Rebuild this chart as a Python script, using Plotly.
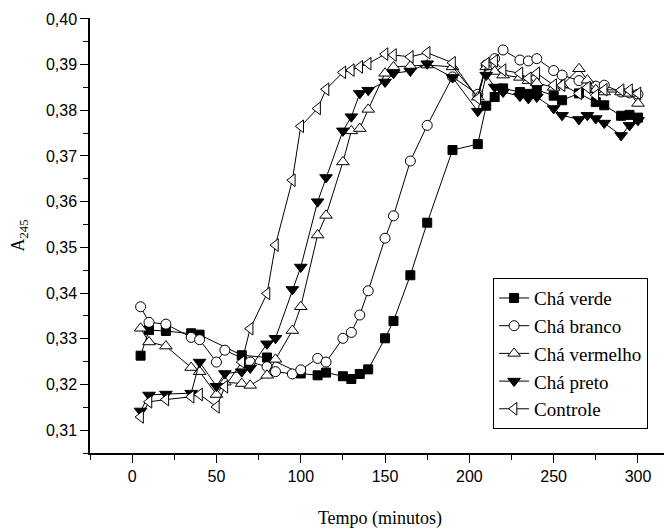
import plotly.graph_objects as go

# ---- data ----
t_verde = [5, 10, 20, 35, 40, 65, 80, 100, 110, 115, 125, 130, 135, 140, 150, 155, 165, 175,
           190, 205, 210, 215, 220, 230, 235, 240, 250, 255, 265, 275, 280, 290, 295, 300]
a_verde = [0.3263, 0.3319, 0.3317, 0.3312, 0.3309, 0.3264, 0.3259, 0.3224, 0.3220, 0.3226,
           0.3218, 0.3212, 0.3223, 0.3233, 0.3301, 0.3339, 0.3439, 0.3554, 0.3713, 0.3726,
           0.3810, 0.3829, 0.3848, 0.3840, 0.3836, 0.3845, 0.3832, 0.3822, 0.3837, 0.3818,
           0.3811, 0.3788, 0.3790, 0.3784]

t_branco = [5, 10, 20, 35, 40, 50, 55, 70, 80, 85, 95, 100, 110, 115, 125, 130, 135, 140, 150,
            155, 165, 175, 190, 205, 210, 215, 220, 230, 235, 240, 250, 255, 265, 275, 280,
            290, 295, 300]
a_branco = [0.3370, 0.3336, 0.3332, 0.3303, 0.3298, 0.3249, 0.3275, 0.3249, 0.3239, 0.3228,
            0.3223, 0.3232, 0.3257, 0.3249, 0.3301, 0.3314, 0.3352, 0.3405, 0.3520, 0.3569,
            0.3689, 0.3767, 0.3873, 0.3835, 0.3899, 0.3913, 0.3932, 0.3910, 0.3908, 0.3913,
            0.3887, 0.3877, 0.3865, 0.3853, 0.3855, 0.3840, 0.3838, 0.3835]

t_vermelho = [5, 10, 20, 35, 40, 50, 55, 65, 70, 80, 85, 95, 100, 110, 115, 125, 130, 135, 140,
              150, 155, 165, 175, 190, 205, 210, 215, 220, 230, 235, 240, 250, 255, 265, 270,
              275, 280, 290, 295, 300]
a_vermelho = [0.3323, 0.3293, 0.3284, 0.3237, 0.3228, 0.3178, 0.3205, 0.3202, 0.3198, 0.3220,
              0.3255, 0.3318, 0.3370, 0.3527, 0.3570, 0.3687, 0.3755, 0.3760, 0.3802, 0.3881,
              0.3895, 0.3897, 0.3899, 0.3895, 0.3829, 0.3895, 0.3885, 0.3877, 0.3872, 0.3865,
              0.3860, 0.3850, 0.3855, 0.3891, 0.3866, 0.3845, 0.3840, 0.3840, 0.3837, 0.3815]

t_preto = [5, 10, 20, 35, 40, 50, 55, 65, 70, 80, 85, 95, 100, 110, 115, 125, 130, 135, 140,
           150, 155, 165, 175, 190, 205, 210, 215, 220, 230, 235, 240, 250, 255, 265, 270,
           275, 280, 290, 295, 300]
a_preto = [0.3142, 0.3177, 0.3179, 0.3181, 0.3249, 0.3196, 0.3224, 0.3228, 0.3236, 0.3289,
           0.3301, 0.3408, 0.3457, 0.3600, 0.3653, 0.3755, 0.3786, 0.3837, 0.3844, 0.3862,
           0.3881, 0.3886, 0.3902, 0.3872, 0.3798, 0.3877, 0.3851, 0.3840, 0.3831, 0.3826,
           0.3829, 0.3804, 0.3789, 0.3780, 0.3789, 0.3782, 0.3772, 0.3745, 0.3767, 0.3778]

t_controle = [5, 10, 20, 35, 40, 50, 55, 65, 70, 80, 85, 95, 100, 110, 115, 125, 130, 135, 140,
              150, 155, 165, 175, 190, 205, 210, 215, 220, 230, 235, 240, 250, 255, 265, 270,
              275, 280, 290, 295, 300]
a_controle = [0.3129, 0.3162, 0.3167, 0.3173, 0.3178, 0.3151, 0.3195, 0.3249, 0.3322, 0.3399,
              0.3505, 0.3647, 0.3765, 0.3804, 0.3846, 0.3883, 0.3888, 0.3895, 0.3902, 0.3923,
              0.3921, 0.3917, 0.3926, 0.3904, 0.3826, 0.3902, 0.3908, 0.3888, 0.3881, 0.3870,
              0.3881, 0.3855, 0.3855, 0.3837, 0.3850, 0.3833, 0.3845, 0.3844, 0.3844, 0.3837]

series_names = ["Chá verde", "Chá branco", "Chá vermelho", "Chá preto", "Controle"]
x_title = "Tempo (minutos)"
y_title = "A<sub>245</sub>"

# ---- styles ----
styles = [
    dict(symbol="square", color="black"),
    dict(symbol="circle", color="white"),
    dict(symbol="triangle-up", color="white"),
    dict(symbol="triangle-down", color="black"),
    dict(symbol="triangle-left", color="white"),
]
sizes = [9, 10, 11, 11, 11]

data = [(t_verde, a_verde), (t_branco, a_branco), (t_vermelho, a_vermelho),
        (t_preto, a_preto), (t_controle, a_controle)]

fig = go.Figure()
for (tx, ay), name, st, sz in zip(data, series_names, styles, sizes):
    fig.add_trace(go.Scatter(
        x=tx, y=ay, name=name, mode="lines+markers",
        line=dict(color="black", width=1),
        marker=dict(symbol=st["symbol"], color=st["color"], size=sz,
                    line=dict(color="black", width=1)),
    ))

axis_common = dict(
    showline=True, linecolor="black", linewidth=1.5,
    ticks="outside", tickcolor="black", tickwidth=1.2, ticklen=8,
    showgrid=False, zeroline=False, mirror=False, automargin=False,
    tickfont=dict(family="Liberation Sans, Arial", size=16, color="black"),
)

# the page body adds an 8 px offset, so the figure is 8 px smaller on each side
fig.update_layout(
    width=664, height=522,
    margin=dict(l=82, r=2, t=10, b=77),
    paper_bgcolor="white", plot_bgcolor="white",
    separators=",.",
    showlegend=True,
    legend=dict(
        x=0.695, y=0.402, xanchor="left", yanchor="top",
        bordercolor="black", borderwidth=1, bgcolor="white",
        font=dict(family="Liberation Serif, Times New Roman", size=19, color="black"),
        tracegroupgap=0, itemsizing="trace",
    ),
    xaxis=dict(
        range=[-25, 319], tick0=0, dtick=50,
        minor=dict(dtick=25, ticks="outside", ticklen=5, tickcolor="black"),
        title=dict(text=x_title, standoff=27,
                   font=dict(family="Liberation Serif, Times New Roman", size=18, color="black")),
        **axis_common,
    ),
    yaxis=dict(
        range=[0.305, 0.4002], tick0=0.31, dtick=0.01, tickformat=".2f",
        minor=dict(dtick=0.005, ticks="outside", ticklen=5, tickcolor="black"),
        title=dict(text=y_title, standoff=20,
                   font=dict(family="Liberation Serif, Times New Roman", size=18, color="black")),
        **axis_common,
    ),
)

fig.write_html("out.html")
